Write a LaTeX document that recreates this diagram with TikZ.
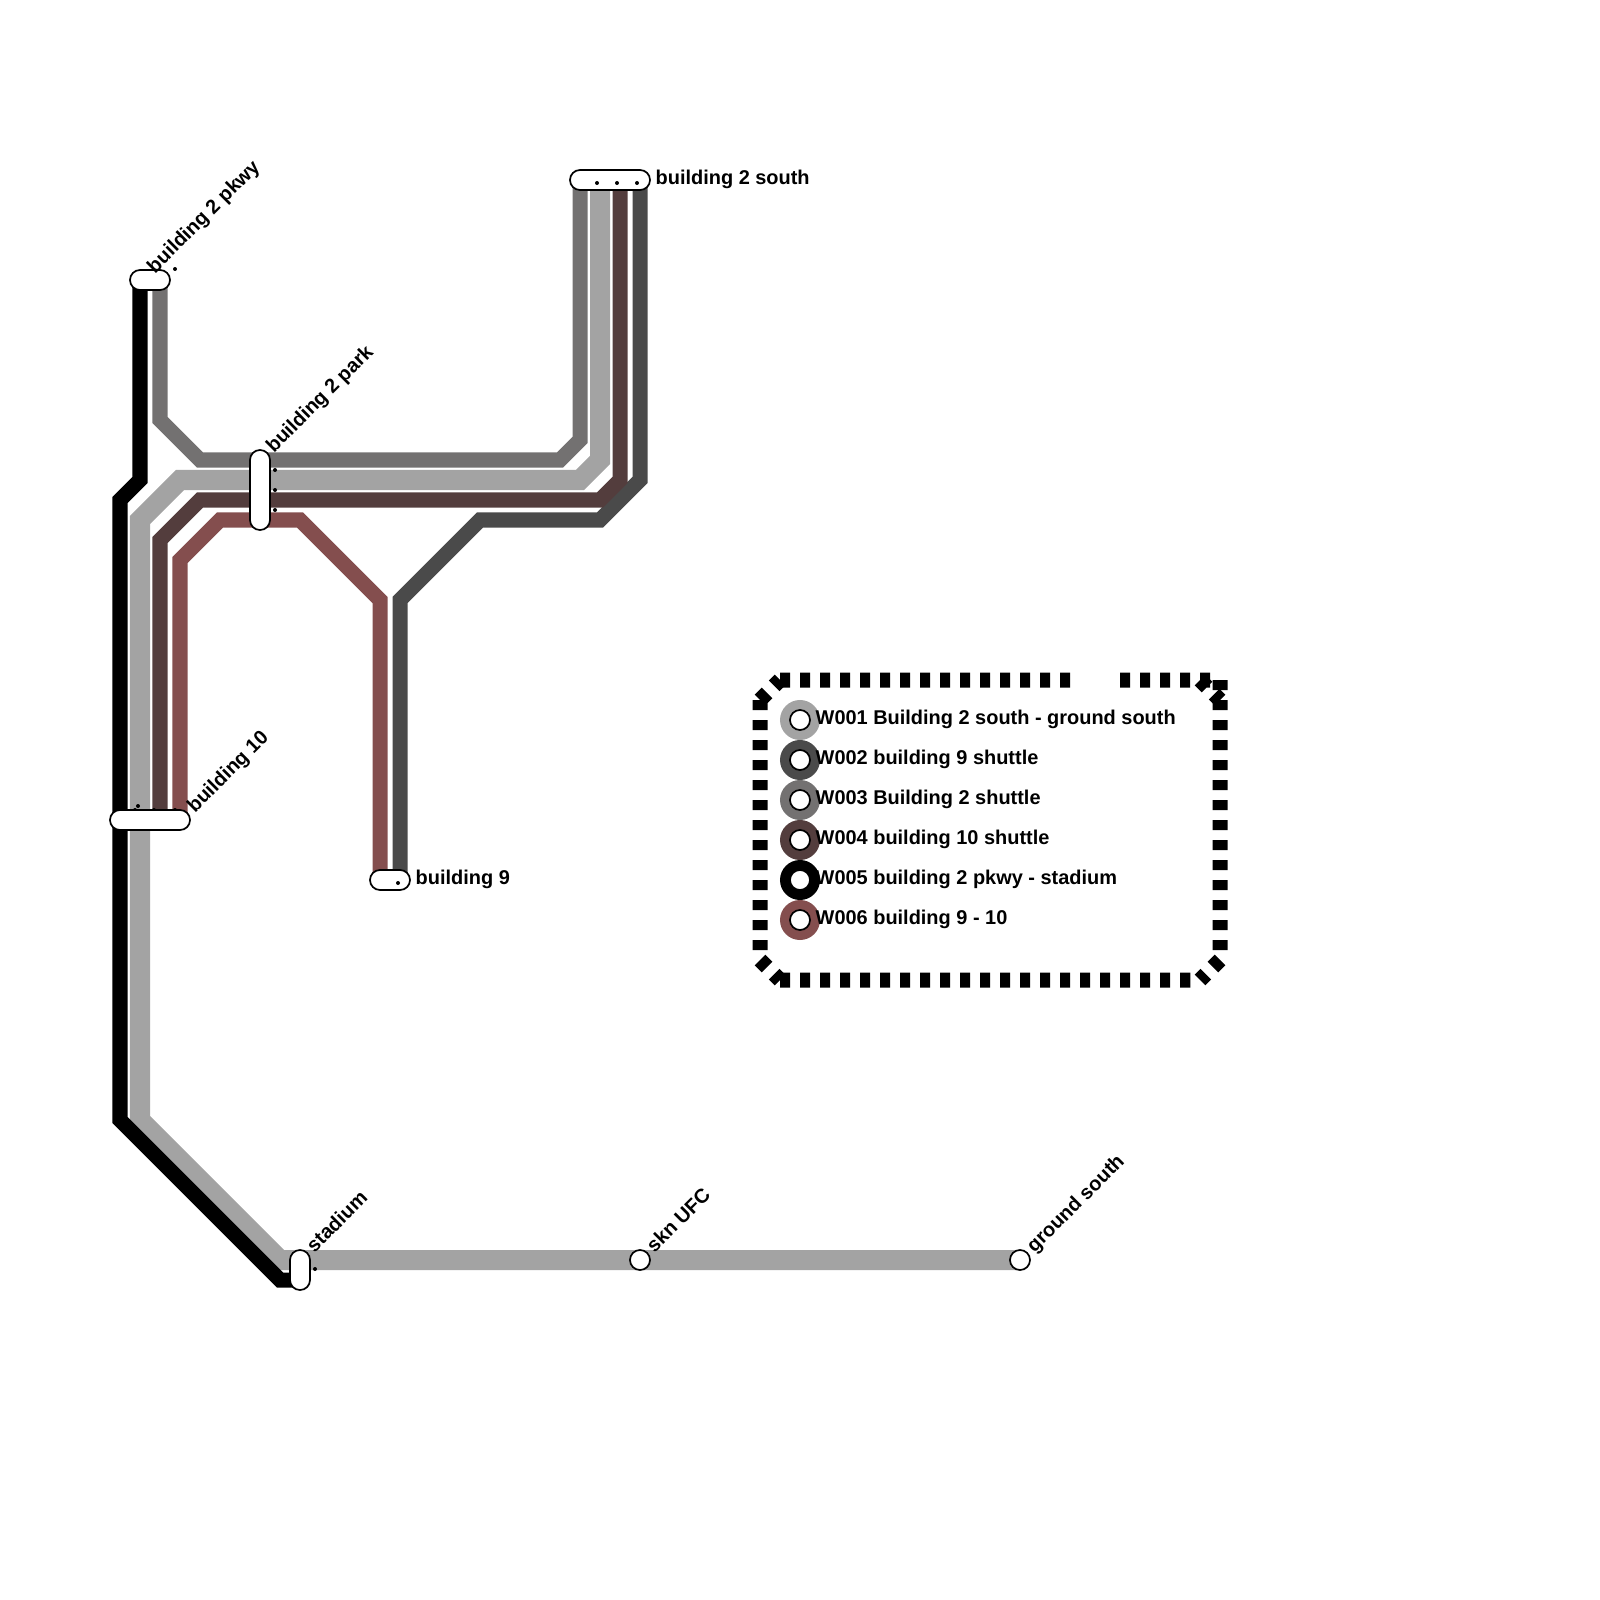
\documentclass[tikz,border=0pt]{standalone}
\usepackage{fontspec}
\setmainfont{Liberation Sans}
\usetikzlibrary{backgrounds}
\definecolor{wone}{HTML}{A3A3A3}
\definecolor{wtwo}{HTML}{4A4A4A}
\definecolor{wthree}{HTML}{737171}
\definecolor{wfour}{HTML}{533D3D}
\definecolor{wfive}{HTML}{000000}
\definecolor{wsix}{HTML}{844E4E}
\tikzset{
	route/.style={line width=1.5mm, line cap=butt, miter limit=10},
	station/.style={draw=black, fill=white, line width=0.17mm, rectangle, rounded corners=1mm, inner sep=0pt, minimum width=#1, minimum height=2mm},
	stationv/.style={draw=black, fill=white, line width=0.17mm, rectangle, rounded corners=1mm, inner sep=0pt, minimum height=#1, minimum width=2mm},
	stop/.style={draw=black, fill=white, line width=0.17mm, circle, inner sep=0pt, minimum size=2mm},
	ring/.style={fill=#1, circle, inner sep=0pt, minimum size=4mm},
	lbl/.style={font=\fontsize{5.67pt}{7pt}\selectfont\bfseries, inner sep=0pt, anchor=base west},
	frame/.style={line width=1.5mm, draw=black, dash pattern=on 1mm off 1mm, line cap=butt}
}
\begin{document}
\begin{tikzpicture}[x=0.01cm, y=-0.01cm, line join=miter]
	\useasboundingbox (0,0) rectangle (1600,1600);
	% line ends under the stations
	\coordinate (south1) at (580,180);
	\coordinate (south2) at (600,180);
	\coordinate (south3) at (620,180);
	\coordinate (south4) at (640,180);
	\coordinate (pkwy1) at (140,280);
	\coordinate (pkwy2) at (160,280);
	\coordinate (ten1) at (160,820);
	\coordinate (ten2) at (180,820);
	\coordinate (nine1) at (380,880);
	\coordinate (nine2) at (400,880);
	\coordinate (stadium1) at (300,1280);
	% stations
	\node[station=8mm] (south) at (610,180) {};
	\node[station=4mm] (pkwy) at (150,280) {};
	\node[stationv=8mm] (park) at (260,490) {};
	\node[station=8mm] (ten) at (150,820) {};
	\node[stationv=4mm] (stadium) at (300,1270) {};
	\node[station=4mm] (nine) at (390,880) {};
	\node[stop] (ufc) at (640,1260) {};
	\node[stop] (ground) at (1020,1260) {};
	% routes
	\begin{scope}[on background layer]
		\draw[route, line width=2mm, wone] (south2)--(600,460)--(580,480)--(180,480)--(140,520)--(140,1120)--(280,1260)--(ufc.center)--(ground.center);
		\draw[route, wtwo] (south4)--(640,480)--(600,520)--(480,520)--(400,600)--(nine2);
		\draw[route, wthree] (south1)--(580,440)--(560,460)--(200,460)--(160,420)--(pkwy2);
		\draw[route, wfour] (south3)--(620,480)--(600,500)--(200,500)--(160,540)--(ten1);
		\draw[route, wfive] (pkwy1)--(140,480)--(120,500)--(120,1120)--(280,1280)--(stadium1);
		\draw[route, wsix] (nine1)--(380,600)--(300,520)--(220,520)--(180,560)--(ten2);
		\fill (135,810) circle (2) (154,810) circle (2) (175,810) circle (2);
	\end{scope}
	% station dots
	\fill (597,183) circle (2) (617,183) circle (2) (637,183) circle (2);
	\fill (175,269) circle (2);
	\fill (275,470) circle (2) (275,490) circle (2) (275,510) circle (2);
	\fill (138,806) circle (2);
	\fill (315,1269) circle (2);
	\fill (398,883) circle (2);
	% station labels
	\node[lbl] (southtext) at (655,184.5) {building 2 south};
	\node[lbl] (ninetext) at (415,884.2) {building 9};
	\node[lbl, rotate=45] (pkwytext) at (154.5,274.5) {building 2 pkwy};
	\node[lbl, rotate=45] (parktext) at (273.5,454) {building 2 park};
	\node[lbl, rotate=45] (tentext) at (194.5,814) {building 10};
	\node[lbl, rotate=45] (stadiumtext) at (314,1254) {stadium};
	\node[lbl, rotate=45] (ufctext) at (654,1254) {skn UFC};
	\node[lbl, rotate=45] (groundtext) at (1034,1254) {ground south};
	% legend
	\draw[frame] (780,680)--(1080,680) (1120,680)--(1210,680) (1200,680)--(1220,700);
	\draw[frame] (1220,680)--(1220,960) (1220,960)--(1200,980) (780,980)--(1200,980);
	\draw[frame] (760,700)--(760,960) (760,700)--(780,680) (760,960)--(780,980);
	\node[ring=wone] (ring1) at (800,720) {};
	\node[ring=wtwo] (ring2) at (800,760) {};
	\node[ring=wthree] (ring3) at (800,800) {};
	\node[ring=wfour] (ring4) at (800,840) {};
	\node[ring=wfive] (ring5) at (800,880) {};
	\node[ring=wsix] (ring6) at (800,920) {};
	\node[stop] (stop1) at (800,720) {};
	\node[stop] (stop2) at (800,760) {};
	\node[stop] (stop3) at (800,800) {};
	\node[stop] (stop4) at (800,840) {};
	\node[stop] (stop5) at (800,880) {};
	\node[stop] (stop6) at (800,920) {};
	\node[lbl] (text1) at (815,724.2) {W001 Building 2 south - ground south};
	\node[lbl] (text2) at (815,764.2) {W002 building 9 shuttle};
	\node[lbl] (text3) at (815,804.2) {W003 Building 2 shuttle};
	\node[lbl] (text4) at (815,844.2) {W004 building 10 shuttle};
	\node[lbl] (text5) at (815,884.2) {W005 building 2 pkwy - stadium};
	\node[lbl] (text6) at (815,924.2) {W006 building 9 - 10};
\end{tikzpicture}
\end{document}
